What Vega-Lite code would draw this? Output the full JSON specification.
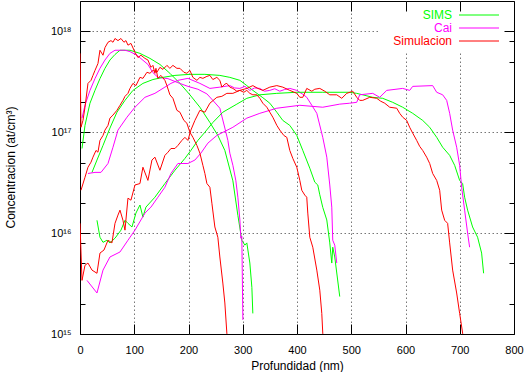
{
"$schema":"https://vega.github.io/schema/vega-lite/v6.json",
"width":434,"height":333,
"autosize":{"type":"none"},
"padding":{"left":80,"top":1,"right":10,"bottom":38},
"background":"white",
"config":{"view":{"stroke":"black","strokeWidth":1},"font":"Liberation Sans"},
"data":{"values":[
{"s":"SIMS","c":"G1","x":3.7,"y":6.9e16},{"s":"SIMS","c":"G1","x":9.2,"y":1.17e17},{"s":"SIMS","c":"G1","x":18.4,"y":1.94e17},{"s":"SIMS","c":"G1","x":27.6,"y":2.6e17},{"s":"SIMS","c":"G1","x":36.8,"y":3.4e17},{"s":"SIMS","c":"G1","x":46,"y":4.3e17},{"s":"SIMS","c":"G1","x":55.2,"y":5.2e17},{"s":"SIMS","c":"G1","x":64.5,"y":5.9e17},{"s":"SIMS","c":"G1","x":73.7,"y":6.5e17},{"s":"SIMS","c":"G1","x":92.1,"y":6.5e17},{"s":"SIMS","c":"G1","x":110.5,"y":6.05e17},{"s":"SIMS","c":"G1","x":128.9,"y":5.4e17},{"s":"SIMS","c":"G1","x":147.3,"y":4.7e17},{"s":"SIMS","c":"G1","x":165.7,"y":3.84e17},{"s":"SIMS","c":"G1","x":184.2,"y":3.05e17},{"s":"SIMS","c":"G1","x":202.6,"y":2.35e17},{"s":"SIMS","c":"G1","x":221,"y":1.77e17},{"s":"SIMS","c":"G1","x":239.4,"y":1.25e17},{"s":"SIMS","c":"G1","x":254.1,"y":9.3e16},{"s":"SIMS","c":"G1","x":267,"y":6.6e16},{"s":"SIMS","c":"G1","x":281.8,"y":3.3e16},{"s":"SIMS","c":"G1","x":291,"y":1.5e16},{"s":"SIMS","c":"G1","x":298.3,"y":8.5e15},{"s":"SIMS","c":"G1","x":303.9,"y":7.6e15},{"s":"SIMS","c":"G1","x":307.5,"y":8.0e15},{"s":"SIMS","c":"G1","x":313.1,"y":5.05e15},{"s":"SIMS","c":"G1","x":316.8,"y":2.9e15},{"s":"SIMS","c":"G1","x":318.6,"y":1.6e15},
{"s":"Cai","c":"M1","x":3.7,"y":1.38e17},{"s":"Cai","c":"M1","x":9.2,"y":1.85e17},{"s":"Cai","c":"M1","x":18.4,"y":2.6e17},{"s":"Cai","c":"M1","x":27.6,"y":3.4e17},{"s":"Cai","c":"M1","x":36.8,"y":4.3e17},{"s":"Cai","c":"M1","x":46,"y":5.2e17},{"s":"Cai","c":"M1","x":55.2,"y":6.05e17},{"s":"Cai","c":"M1","x":64.5,"y":6.5e17},{"s":"Cai","c":"M1","x":82.9,"y":6.5e17},{"s":"Cai","c":"M1","x":92.1,"y":6.3e17},{"s":"Cai","c":"M1","x":105,"y":5.8e17},{"s":"Cai","c":"M1","x":125.2,"y":4.7e17},{"s":"Cai","c":"M1","x":134.4,"y":3.9e17},{"s":"Cai","c":"M1","x":143.6,"y":3.5e17},{"s":"Cai","c":"M1","x":162.1,"y":3.4e17},{"s":"Cai","c":"M1","x":180.5,"y":3.1e17},{"s":"Cai","c":"M1","x":198.9,"y":2.85e17},{"s":"Cai","c":"M1","x":217.3,"y":2.67e17},{"s":"Cai","c":"M1","x":233.9,"y":2.4e17},{"s":"Cai","c":"M1","x":244.9,"y":2.07e17},{"s":"Cai","c":"M1","x":257.8,"y":1.73e17},{"s":"Cai","c":"M1","x":267,"y":1.1e17},{"s":"Cai","c":"M1","x":272.6,"y":8.3e16},{"s":"Cai","c":"M1","x":276.2,"y":6.2e16},{"s":"Cai","c":"M1","x":281.8,"y":4.7e16},{"s":"Cai","c":"M1","x":287.3,"y":3.3e16},{"s":"Cai","c":"M1","x":291,"y":2.27e16},{"s":"Cai","c":"M1","x":294.7,"y":1.35e16},{"s":"Cai","c":"M1","x":296.5,"y":8.9e15},{"s":"Cai","c":"M1","x":298.3,"y":9.3e15},{"s":"Cai","c":"M1","x":300.2,"y":1.38e15},
{"s":"SIMS","c":"G2","x":22.1,"y":4.0e16},{"s":"SIMS","c":"G2","x":31.3,"y":5.3e16},{"s":"SIMS","c":"G2","x":42.4,"y":7.4e16},{"s":"SIMS","c":"G2","x":55.2,"y":1.1e17},{"s":"SIMS","c":"G2","x":68.1,"y":1.58e17},{"s":"SIMS","c":"G2","x":82.9,"y":2.07e17},{"s":"SIMS","c":"G2","x":97.6,"y":2.6e17},{"s":"SIMS","c":"G2","x":116,"y":3.05e17},{"s":"SIMS","c":"G2","x":134.4,"y":3.33e17},{"s":"SIMS","c":"G2","x":152.9,"y":3.5e17},{"s":"SIMS","c":"G2","x":175,"y":3.66e17},{"s":"SIMS","c":"G2","x":202.6,"y":3.75e17},{"s":"SIMS","c":"G2","x":230.2,"y":3.75e17},{"s":"SIMS","c":"G2","x":257.8,"y":3.66e17},{"s":"SIMS","c":"G2","x":276.2,"y":3.5e17},{"s":"SIMS","c":"G2","x":294.7,"y":3.27e17},{"s":"SIMS","c":"G2","x":307.5,"y":2.9e17},{"s":"SIMS","c":"G2","x":318.6,"y":2.6e17},{"s":"SIMS","c":"G2","x":337,"y":2.2e17},{"s":"SIMS","c":"G2","x":349.9,"y":1.94e17},{"s":"SIMS","c":"G2","x":362.8,"y":1.58e17},{"s":"SIMS","c":"G2","x":373.8,"y":1.31e17},{"s":"SIMS","c":"G2","x":386.7,"y":1.17e17},{"s":"SIMS","c":"G2","x":399.6,"y":9.3e16},{"s":"SIMS","c":"G2","x":410.7,"y":6.6e16},{"s":"SIMS","c":"G2","x":423.6,"y":4.4e16},{"s":"SIMS","c":"G2","x":432.8,"y":3.2e16},{"s":"SIMS","c":"G2","x":438.3,"y":3.0e16},{"s":"SIMS","c":"G2","x":442,"y":2.4e16},{"s":"SIMS","c":"G2","x":447.5,"y":1.8e16},{"s":"SIMS","c":"G2","x":454.9,"y":1.35e16},{"s":"SIMS","c":"G2","x":460.4,"y":8.0e15},{"s":"SIMS","c":"G2","x":464.1,"y":5.05e15},{"s":"SIMS","c":"G2","x":465.9,"y":7.25e15},{"s":"SIMS","c":"G2","x":469.6,"y":5.8e15},{"s":"SIMS","c":"G2","x":478.8,"y":2.35e15},
{"s":"Cai","c":"M2","x":14.7,"y":3.9e16},{"s":"Cai","c":"M2","x":27.6,"y":4.0e16},{"s":"Cai","c":"M2","x":38.7,"y":4.0e16},{"s":"Cai","c":"M2","x":51.6,"y":4.9e16},{"s":"Cai","c":"M2","x":60.8,"y":7.1e16},{"s":"Cai","c":"M2","x":70,"y":1.05e17},{"s":"Cai","c":"M2","x":86.6,"y":1.41e17},{"s":"Cai","c":"M2","x":101.3,"y":1.77e17},{"s":"Cai","c":"M2","x":119.7,"y":2.22e17},{"s":"Cai","c":"M2","x":138.1,"y":2.43e17},{"s":"Cai","c":"M2","x":156.5,"y":2.8e17},{"s":"Cai","c":"M2","x":167.6,"y":3.05e17},{"s":"Cai","c":"M2","x":180.5,"y":3.27e17},{"s":"Cai","c":"M2","x":198.9,"y":3.42e17},{"s":"Cai","c":"M2","x":221,"y":3.05e17},{"s":"Cai","c":"M2","x":239.4,"y":2.72e17},{"s":"Cai","c":"M2","x":257.8,"y":2.8e17},{"s":"Cai","c":"M2","x":276.2,"y":2.9e17},{"s":"Cai","c":"M2","x":285,"y":2.75e17},{"s":"Cai","c":"M2","x":294.7,"y":2.72e17},{"s":"Cai","c":"M2","x":304,"y":2.85e17},{"s":"Cai","c":"M2","x":313.1,"y":2.6e17},{"s":"Cai","c":"M2","x":322,"y":2.75e17},{"s":"Cai","c":"M2","x":331.5,"y":2.72e17},{"s":"Cai","c":"M2","x":340,"y":2.55e17},{"s":"Cai","c":"M2","x":349.9,"y":2.6e17},{"s":"Cai","c":"M2","x":359,"y":2.7e17},{"s":"Cai","c":"M2","x":368.3,"y":2.55e17},{"s":"Cai","c":"M2","x":377,"y":2.65e17},{"s":"Cai","c":"M2","x":386.7,"y":2.72e17},{"s":"Cai","c":"M2","x":399.6,"y":2.6e17},{"s":"Cai","c":"M2","x":410.7,"y":2.38e17},{"s":"Cai","c":"M2","x":418,"y":2.22e17},{"s":"Cai","c":"M2","x":427.3,"y":1.85e17},{"s":"Cai","c":"M2","x":436.5,"y":1.54e17},{"s":"Cai","c":"M2","x":447.5,"y":8.9e16},{"s":"Cai","c":"M2","x":454.9,"y":5.66e16},{"s":"Cai","c":"M2","x":460.4,"y":3.0e16},{"s":"Cai","c":"M2","x":464.1,"y":1.81e16},{"s":"Cai","c":"M2","x":465.9,"y":8.5e15},{"s":"Cai","c":"M2","x":469.6,"y":7.6e15},{"s":"Cai","c":"M2","x":473.3,"y":5.05e15},
{"s":"SIMS","c":"G3","x":31.3,"y":1.34e16},{"s":"SIMS","c":"G3","x":36.8,"y":9.1e15},{"s":"SIMS","c":"G3","x":42.4,"y":8.1e15},{"s":"SIMS","c":"G3","x":49.7,"y":8.5e15},{"s":"SIMS","c":"G3","x":55.2,"y":8.0e15},{"s":"SIMS","c":"G3","x":64.5,"y":8.9e15},{"s":"SIMS","c":"G3","x":75.5,"y":1.07e16},{"s":"SIMS","c":"G3","x":82.9,"y":1.34e16},{"s":"SIMS","c":"G3","x":88.4,"y":1.25e16},{"s":"SIMS","c":"G3","x":95.8,"y":1.15e16},{"s":"SIMS","c":"G3","x":103.1,"y":1.58e16},{"s":"SIMS","c":"G3","x":110.5,"y":1.9e16},{"s":"SIMS","c":"G3","x":116,"y":1.44e16},{"s":"SIMS","c":"G3","x":121.5,"y":1.81e16},{"s":"SIMS","c":"G3","x":138.1,"y":2.27e16},{"s":"SIMS","c":"G3","x":156.5,"y":3.1e16},{"s":"SIMS","c":"G3","x":175,"y":4.2e16},{"s":"SIMS","c":"G3","x":193.4,"y":5.5e16},{"s":"SIMS","c":"G3","x":204.4,"y":6.6e16},{"s":"SIMS","c":"G3","x":217.3,"y":8.3e16},{"s":"SIMS","c":"G3","x":230.2,"y":1.0e17},{"s":"SIMS","c":"G3","x":244.9,"y":1.25e17},{"s":"SIMS","c":"G3","x":263.3,"y":1.58e17},{"s":"SIMS","c":"G3","x":289.1,"y":1.9e17},{"s":"SIMS","c":"G3","x":307.5,"y":2.17e17},{"s":"SIMS","c":"G3","x":331.5,"y":2.35e17},{"s":"SIMS","c":"G3","x":362.8,"y":2.43e17},{"s":"SIMS","c":"G3","x":399.6,"y":2.49e17},{"s":"SIMS","c":"G3","x":447.5,"y":2.49e17},{"s":"SIMS","c":"G3","x":497.2,"y":2.49e17},{"s":"SIMS","c":"G3","x":510.1,"y":2.43e17},{"s":"SIMS","c":"G3","x":539.6,"y":2.22e17},{"s":"SIMS","c":"G3","x":558,"y":2.17e17},{"s":"SIMS","c":"G3","x":576.4,"y":1.98e17},{"s":"SIMS","c":"G3","x":594.8,"y":1.77e17},{"s":"SIMS","c":"G3","x":613.3,"y":1.54e17},{"s":"SIMS","c":"G3","x":631.7,"y":1.31e17},{"s":"SIMS","c":"G3","x":644.6,"y":1.12e17},{"s":"SIMS","c":"G3","x":657.5,"y":8.9e16},{"s":"SIMS","c":"G3","x":668.5,"y":7.1e16},{"s":"SIMS","c":"G3","x":681.4,"y":5.9e16},{"s":"SIMS","c":"G3","x":690.6,"y":4.7e16},{"s":"SIMS","c":"G3","x":699.8,"y":3.33e16},{"s":"SIMS","c":"G3","x":705.3,"y":3.1e16},{"s":"SIMS","c":"G3","x":709,"y":2.27e16},{"s":"SIMS","c":"G3","x":714.5,"y":1.69e16},{"s":"SIMS","c":"G3","x":723.7,"y":1.15e16},{"s":"SIMS","c":"G3","x":732.9,"y":9.1e15},{"s":"SIMS","c":"G3","x":740.3,"y":6.34e15},{"s":"SIMS","c":"G3","x":744,"y":4.0e15},
{"s":"Cai","c":"M3","x":12.9,"y":3.4e15},{"s":"Cai","c":"M3","x":31.3,"y":2.55e15},{"s":"Cai","c":"M3","x":42.4,"y":4.3e15},{"s":"Cai","c":"M3","x":55.2,"y":5.8e15},{"s":"Cai","c":"M3","x":73.7,"y":6.5e15},{"s":"Cai","c":"M3","x":88.4,"y":8.5e15},{"s":"Cai","c":"M3","x":101.3,"y":1.07e16},{"s":"Cai","c":"M3","x":119.7,"y":1.58e16},{"s":"Cai","c":"M3","x":130.8,"y":1.81e16},{"s":"Cai","c":"M3","x":143.6,"y":2.27e16},{"s":"Cai","c":"M3","x":156.5,"y":2.85e16},{"s":"Cai","c":"M3","x":167.6,"y":3.9e16},{"s":"Cai","c":"M3","x":180.5,"y":4.9e16},{"s":"Cai","c":"M3","x":198.9,"y":4.9e16},{"s":"Cai","c":"M3","x":211.8,"y":5.3e16},{"s":"Cai","c":"M3","x":222.8,"y":6.2e16},{"s":"Cai","c":"M3","x":235.7,"y":7.8e16},{"s":"Cai","c":"M3","x":252.3,"y":9.3e16},{"s":"Cai","c":"M3","x":281.8,"y":1.12e17},{"s":"Cai","c":"M3","x":307.5,"y":1.38e17},{"s":"Cai","c":"M3","x":331.5,"y":1.54e17},{"s":"Cai","c":"M3","x":362.8,"y":1.73e17},{"s":"Cai","c":"M3","x":405.2,"y":1.85e17},{"s":"Cai","c":"M3","x":447.5,"y":1.77e17},{"s":"Cai","c":"M3","x":478.8,"y":1.9e17},{"s":"Cai","c":"M3","x":497.2,"y":1.94e17},{"s":"Cai","c":"M3","x":510.1,"y":1.98e17},{"s":"Cai","c":"M3","x":515.6,"y":2.35e17},{"s":"Cai","c":"M3","x":539.6,"y":2.43e17},{"s":"Cai","c":"M3","x":552.5,"y":2.22e17},{"s":"Cai","c":"M3","x":565.4,"y":2.6e17},{"s":"Cai","c":"M3","x":594.8,"y":2.72e17},{"s":"Cai","c":"M3","x":607.7,"y":2.6e17},{"s":"Cai","c":"M3","x":613.3,"y":2.85e17},{"s":"Cai","c":"M3","x":650.1,"y":2.9e17},{"s":"Cai","c":"M3","x":657.5,"y":2.49e17},{"s":"Cai","c":"M3","x":668.5,"y":2.35e17},{"s":"Cai","c":"M3","x":675.9,"y":2.07e17},{"s":"Cai","c":"M3","x":681.4,"y":1.54e17},{"s":"Cai","c":"M3","x":686.9,"y":1.05e17},{"s":"Cai","c":"M3","x":694.3,"y":7.1e16},{"s":"Cai","c":"M3","x":699.8,"y":4.7e16},{"s":"Cai","c":"M3","x":703.5,"y":2.85e16},{"s":"Cai","c":"M3","x":709,"y":1.69e16},{"s":"Cai","c":"M3","x":714.5,"y":1.0e16},{"s":"Cai","c":"M3","x":718.2,"y":7.25e15},
{"s":"Simulacion","c":"R1","x":0,"y":6.05e17},{"s":"Simulacion","c":"R1","x":1.8,"y":1.12e17},{"s":"Simulacion","c":"R1","x":5.5,"y":1.31e17},{"s":"Simulacion","c":"R1","x":9.2,"y":1.77e17},{"s":"Simulacion","c":"R1","x":14.7,"y":3.05e17},{"s":"Simulacion","c":"R1","x":20.3,"y":3.27e17},{"s":"Simulacion","c":"R1","x":23.9,"y":3.66e17},{"s":"Simulacion","c":"R1","x":27.6,"y":4.1e17},{"s":"Simulacion","c":"R1","x":33.1,"y":4.8e17},{"s":"Simulacion","c":"R1","x":36.8,"y":6.5e17},{"s":"Simulacion","c":"R1","x":42.4,"y":5.8e17},{"s":"Simulacion","c":"R1","x":46,"y":6.9e17},{"s":"Simulacion","c":"R1","x":51.6,"y":7.8e17},{"s":"Simulacion","c":"R1","x":57.1,"y":8.1e17},{"s":"Simulacion","c":"R1","x":60.8,"y":7.8e17},{"s":"Simulacion","c":"R1","x":64.5,"y":8.5e17},{"s":"Simulacion","c":"R1","x":70,"y":8.1e17},{"s":"Simulacion","c":"R1","x":75.5,"y":8.5e17},{"s":"Simulacion","c":"R1","x":81,"y":7.8e17},{"s":"Simulacion","c":"R1","x":84.7,"y":8.1e17},{"s":"Simulacion","c":"R1","x":88.4,"y":7.3e17},{"s":"Simulacion","c":"R1","x":93.9,"y":7.6e17},{"s":"Simulacion","c":"R1","x":101.3,"y":6.2e17},{"s":"Simulacion","c":"R1","x":106.8,"y":5.5e17},{"s":"Simulacion","c":"R1","x":112.3,"y":5.8e17},{"s":"Simulacion","c":"R1","x":119.7,"y":5.4e17},{"s":"Simulacion","c":"R1","x":125.2,"y":5.2e17},{"s":"Simulacion","c":"R1","x":130.8,"y":4.4e17},{"s":"Simulacion","c":"R1","x":134.4,"y":4.6e17},{"s":"Simulacion","c":"R1","x":138.1,"y":3.84e17},{"s":"Simulacion","c":"R1","x":140,"y":4.3e17},{"s":"Simulacion","c":"R1","x":143.6,"y":3.42e17},{"s":"Simulacion","c":"R1","x":149.2,"y":3.66e17},{"s":"Simulacion","c":"R1","x":156.5,"y":3.27e17},{"s":"Simulacion","c":"R1","x":160.2,"y":2.9e17},{"s":"Simulacion","c":"R1","x":165.7,"y":2.35e17},{"s":"Simulacion","c":"R1","x":171.3,"y":2.17e17},{"s":"Simulacion","c":"R1","x":178.6,"y":1.65e17},{"s":"Simulacion","c":"R1","x":184.2,"y":1.58e17},{"s":"Simulacion","c":"R1","x":191.5,"y":1.31e17},{"s":"Simulacion","c":"R1","x":197,"y":1.23e17},{"s":"Simulacion","c":"R1","x":202.6,"y":1.0e17},{"s":"Simulacion","c":"R1","x":208.1,"y":8.9e16},{"s":"Simulacion","c":"R1","x":215.5,"y":7.4e16},{"s":"Simulacion","c":"R1","x":221,"y":6.2e16},{"s":"Simulacion","c":"R1","x":226.5,"y":4.7e16},{"s":"Simulacion","c":"R1","x":230.2,"y":3.9e16},{"s":"Simulacion","c":"R1","x":233.9,"y":3.1e16},{"s":"Simulacion","c":"R1","x":239.4,"y":2.85e16},{"s":"Simulacion","c":"R1","x":243.1,"y":1.98e16},{"s":"Simulacion","c":"R1","x":248.6,"y":1.15e16},{"s":"Simulacion","c":"R1","x":254.1,"y":9.1e15},{"s":"Simulacion","c":"R1","x":257.8,"y":5.8e15},{"s":"Simulacion","c":"R1","x":263.3,"y":3.2e15},{"s":"Simulacion","c":"R1","x":267,"y":2.03e15},{"s":"Simulacion","c":"R1","x":270.7,"y":1.02e15},{"s":"Simulacion","c":"R1","x":272.6,"y":7.7e14},
{"s":"Simulacion","c":"R2","x":1.8,"y":2.66e16},{"s":"Simulacion","c":"R2","x":9.2,"y":3.58e16},{"s":"Simulacion","c":"R2","x":14.7,"y":4.5e16},{"s":"Simulacion","c":"R2","x":20.3,"y":5.05e16},{"s":"Simulacion","c":"R2","x":23.9,"y":5.66e16},{"s":"Simulacion","c":"R2","x":29.5,"y":6.6e16},{"s":"Simulacion","c":"R2","x":33.1,"y":6.34e16},{"s":"Simulacion","c":"R2","x":36.8,"y":8.3e16},{"s":"Simulacion","c":"R2","x":42.4,"y":9.3e16},{"s":"Simulacion","c":"R2","x":46,"y":1.05e17},{"s":"Simulacion","c":"R2","x":51.6,"y":1.17e17},{"s":"Simulacion","c":"R2","x":55.2,"y":1.38e17},{"s":"Simulacion","c":"R2","x":60.8,"y":1.48e17},{"s":"Simulacion","c":"R2","x":68.1,"y":1.65e17},{"s":"Simulacion","c":"R2","x":73.7,"y":1.85e17},{"s":"Simulacion","c":"R2","x":79.2,"y":2.07e17},{"s":"Simulacion","c":"R2","x":82.9,"y":2.27e17},{"s":"Simulacion","c":"R2","x":88.4,"y":2.43e17},{"s":"Simulacion","c":"R2","x":92.1,"y":2.72e17},{"s":"Simulacion","c":"R2","x":97.6,"y":3.05e17},{"s":"Simulacion","c":"R2","x":103.1,"y":2.9e17},{"s":"Simulacion","c":"R2","x":110.5,"y":3.5e17},{"s":"Simulacion","c":"R2","x":116,"y":3.42e17},{"s":"Simulacion","c":"R2","x":123.4,"y":3.93e17},{"s":"Simulacion","c":"R2","x":128.9,"y":3.84e17},{"s":"Simulacion","c":"R2","x":134.4,"y":4.1e17},{"s":"Simulacion","c":"R2","x":141.8,"y":3.93e17},{"s":"Simulacion","c":"R2","x":147.3,"y":4.4e17},{"s":"Simulacion","c":"R2","x":152.9,"y":4.2e17},{"s":"Simulacion","c":"R2","x":160.2,"y":4.6e17},{"s":"Simulacion","c":"R2","x":165.7,"y":4.3e17},{"s":"Simulacion","c":"R2","x":171.3,"y":4.6e17},{"s":"Simulacion","c":"R2","x":178.6,"y":4.3e17},{"s":"Simulacion","c":"R2","x":184.2,"y":4.3e17},{"s":"Simulacion","c":"R2","x":191.5,"y":3.93e17},{"s":"Simulacion","c":"R2","x":197,"y":3.84e17},{"s":"Simulacion","c":"R2","x":202.6,"y":4.1e17},{"s":"Simulacion","c":"R2","x":208.1,"y":3.5e17},{"s":"Simulacion","c":"R2","x":215.5,"y":3.27e17},{"s":"Simulacion","c":"R2","x":221,"y":3.5e17},{"s":"Simulacion","c":"R2","x":226.5,"y":3.42e17},{"s":"Simulacion","c":"R2","x":233.9,"y":3.58e17},{"s":"Simulacion","c":"R2","x":239.4,"y":3.66e17},{"s":"Simulacion","c":"R2","x":244.9,"y":3.33e17},{"s":"Simulacion","c":"R2","x":252.3,"y":3.5e17},{"s":"Simulacion","c":"R2","x":257.8,"y":3.27e17},{"s":"Simulacion","c":"R2","x":261.5,"y":2.8e17},{"s":"Simulacion","c":"R2","x":267,"y":3.0e17},{"s":"Simulacion","c":"R2","x":270.7,"y":3.05e17},{"s":"Simulacion","c":"R2","x":276.2,"y":2.8e17},{"s":"Simulacion","c":"R2","x":281.8,"y":2.72e17},{"s":"Simulacion","c":"R2","x":289.1,"y":2.55e17},{"s":"Simulacion","c":"R2","x":294.7,"y":2.6e17},{"s":"Simulacion","c":"R2","x":302,"y":2.49e17},{"s":"Simulacion","c":"R2","x":307.5,"y":2.6e17},{"s":"Simulacion","c":"R2","x":313.1,"y":2.43e17},{"s":"Simulacion","c":"R2","x":318.6,"y":2.35e17},{"s":"Simulacion","c":"R2","x":326,"y":2.35e17},{"s":"Simulacion","c":"R2","x":331.5,"y":2.17e17},{"s":"Simulacion","c":"R2","x":337,"y":1.94e17},{"s":"Simulacion","c":"R2","x":344.4,"y":1.77e17},{"s":"Simulacion","c":"R2","x":349.9,"y":1.58e17},{"s":"Simulacion","c":"R2","x":355.4,"y":1.41e17},{"s":"Simulacion","c":"R2","x":362.8,"y":1.17e17},{"s":"Simulacion","c":"R2","x":368.3,"y":1.05e17},{"s":"Simulacion","c":"R2","x":375.7,"y":9.3e16},{"s":"Simulacion","c":"R2","x":381.2,"y":8.9e16},{"s":"Simulacion","c":"R2","x":386.7,"y":6.6e16},{"s":"Simulacion","c":"R2","x":392.3,"y":5.5e16},{"s":"Simulacion","c":"R2","x":399.6,"y":4.5e16},{"s":"Simulacion","c":"R2","x":405.2,"y":3.33e16},{"s":"Simulacion","c":"R2","x":408.8,"y":2.66e16},{"s":"Simulacion","c":"R2","x":414.4,"y":2.38e16},{"s":"Simulacion","c":"R2","x":418,"y":2.27e16},{"s":"Simulacion","c":"R2","x":419.9,"y":1.58e16},{"s":"Simulacion","c":"R2","x":423.6,"y":9.1e15},{"s":"Simulacion","c":"R2","x":429.1,"y":7.25e15},{"s":"Simulacion","c":"R2","x":436.5,"y":4.3e15},{"s":"Simulacion","c":"R2","x":442,"y":2.72e15},{"s":"Simulacion","c":"R2","x":445.7,"y":1.6e15},{"s":"Simulacion","c":"R2","x":447.5,"y":1.02e15},{"s":"Simulacion","c":"R2","x":449.3,"y":7.7e14},
{"s":"Simulacion","c":"R3","x":0,"y":1.25e16},{"s":"Simulacion","c":"R3","x":3.7,"y":3.4e15},{"s":"Simulacion","c":"R3","x":9.2,"y":4.8e15},{"s":"Simulacion","c":"R3","x":14.7,"y":5.05e15},{"s":"Simulacion","c":"R3","x":22.1,"y":4.3e15},{"s":"Simulacion","c":"R3","x":31.3,"y":4.0e15},{"s":"Simulacion","c":"R3","x":36.8,"y":6.34e15},{"s":"Simulacion","c":"R3","x":44.2,"y":6.8e15},{"s":"Simulacion","c":"R3","x":51.6,"y":8.5e15},{"s":"Simulacion","c":"R3","x":58.9,"y":8.0e15},{"s":"Simulacion","c":"R3","x":64.5,"y":1.25e16},{"s":"Simulacion","c":"R3","x":70,"y":1.51e16},{"s":"Simulacion","c":"R3","x":73.7,"y":1.69e16},{"s":"Simulacion","c":"R3","x":79.2,"y":1.34e16},{"s":"Simulacion","c":"R3","x":82.9,"y":1.07e16},{"s":"Simulacion","c":"R3","x":88.4,"y":2.22e16},{"s":"Simulacion","c":"R3","x":93.9,"y":2.12e16},{"s":"Simulacion","c":"R3","x":101.3,"y":3.0e16},{"s":"Simulacion","c":"R3","x":110.5,"y":3.1e16},{"s":"Simulacion","c":"R3","x":116,"y":4.5e16},{"s":"Simulacion","c":"R3","x":125.2,"y":3.33e16},{"s":"Simulacion","c":"R3","x":132.6,"y":5.3e16},{"s":"Simulacion","c":"R3","x":138.1,"y":5.66e16},{"s":"Simulacion","c":"R3","x":147.3,"y":4.2e16},{"s":"Simulacion","c":"R3","x":156.5,"y":5.9e16},{"s":"Simulacion","c":"R3","x":162.1,"y":6.34e16},{"s":"Simulacion","c":"R3","x":167.6,"y":6.9e16},{"s":"Simulacion","c":"R3","x":175,"y":6.9e16},{"s":"Simulacion","c":"R3","x":180.5,"y":7.4e16},{"s":"Simulacion","c":"R3","x":187.8,"y":8.3e16},{"s":"Simulacion","c":"R3","x":193.4,"y":8.9e16},{"s":"Simulacion","c":"R3","x":198.9,"y":8.3e16},{"s":"Simulacion","c":"R3","x":204.4,"y":1.05e17},{"s":"Simulacion","c":"R3","x":211.8,"y":1.31e17},{"s":"Simulacion","c":"R3","x":221,"y":1.65e17},{"s":"Simulacion","c":"R3","x":230.2,"y":1.58e17},{"s":"Simulacion","c":"R3","x":239.4,"y":1.94e17},{"s":"Simulacion","c":"R3","x":252.3,"y":2.22e17},{"s":"Simulacion","c":"R3","x":261.5,"y":2.27e17},{"s":"Simulacion","c":"R3","x":270.7,"y":2.43e17},{"s":"Simulacion","c":"R3","x":281.8,"y":2.43e17},{"s":"Simulacion","c":"R3","x":294.7,"y":2.6e17},{"s":"Simulacion","c":"R3","x":307.5,"y":2.72e17},{"s":"Simulacion","c":"R3","x":318.6,"y":2.9e17},{"s":"Simulacion","c":"R3","x":327.8,"y":2.72e17},{"s":"Simulacion","c":"R3","x":337,"y":2.6e17},{"s":"Simulacion","c":"R3","x":349.9,"y":2.8e17},{"s":"Simulacion","c":"R3","x":362.8,"y":2.9e17},{"s":"Simulacion","c":"R3","x":373.8,"y":2.8e17},{"s":"Simulacion","c":"R3","x":386.7,"y":2.6e17},{"s":"Simulacion","c":"R3","x":399.6,"y":2.43e17},{"s":"Simulacion","c":"R3","x":405.2,"y":2.22e17},{"s":"Simulacion","c":"R3","x":410.7,"y":2.22e17},{"s":"Simulacion","c":"R3","x":418,"y":2.72e17},{"s":"Simulacion","c":"R3","x":427.3,"y":2.55e17},{"s":"Simulacion","c":"R3","x":432.8,"y":2.67e17},{"s":"Simulacion","c":"R3","x":442,"y":2.72e17},{"s":"Simulacion","c":"R3","x":451.2,"y":2.55e17},{"s":"Simulacion","c":"R3","x":460.4,"y":2.35e17},{"s":"Simulacion","c":"R3","x":473.3,"y":2.35e17},{"s":"Simulacion","c":"R3","x":482.5,"y":2.17e17},{"s":"Simulacion","c":"R3","x":491.7,"y":2.43e17},{"s":"Simulacion","c":"R3","x":502.8,"y":2.55e17},{"s":"Simulacion","c":"R3","x":510.1,"y":2.22e17},{"s":"Simulacion","c":"R3","x":515.6,"y":2.07e17},{"s":"Simulacion","c":"R3","x":521.2,"y":2.07e17},{"s":"Simulacion","c":"R3","x":534.1,"y":2.22e17},{"s":"Simulacion","c":"R3","x":547,"y":2.17e17},{"s":"Simulacion","c":"R3","x":554.3,"y":2.03e17},{"s":"Simulacion","c":"R3","x":561.7,"y":1.94e17},{"s":"Simulacion","c":"R3","x":570.9,"y":1.77e17},{"s":"Simulacion","c":"R3","x":583.8,"y":1.73e17},{"s":"Simulacion","c":"R3","x":589.3,"y":1.54e17},{"s":"Simulacion","c":"R3","x":594.8,"y":1.41e17},{"s":"Simulacion","c":"R3","x":602.2,"y":1.31e17},{"s":"Simulacion","c":"R3","x":607.7,"y":1.12e17},{"s":"Simulacion","c":"R3","x":613.3,"y":9.8e16},{"s":"Simulacion","c":"R3","x":620.6,"y":8.3e16},{"s":"Simulacion","c":"R3","x":626.1,"y":7.25e16},{"s":"Simulacion","c":"R3","x":631.7,"y":6.6e16},{"s":"Simulacion","c":"R3","x":639,"y":5.66e16},{"s":"Simulacion","c":"R3","x":644.6,"y":4.9e16},{"s":"Simulacion","c":"R3","x":650.1,"y":3.9e16},{"s":"Simulacion","c":"R3","x":657.5,"y":3.33e16},{"s":"Simulacion","c":"R3","x":663,"y":2.66e16},{"s":"Simulacion","c":"R3","x":666.7,"y":1.69e16},{"s":"Simulacion","c":"R3","x":672.2,"y":1.34e16},{"s":"Simulacion","c":"R3","x":677.7,"y":1.25e16},{"s":"Simulacion","c":"R3","x":681.4,"y":8.0e15},{"s":"Simulacion","c":"R3","x":686.9,"y":4.3e15},{"s":"Simulacion","c":"R3","x":694.3,"y":2.55e15},{"s":"Simulacion","c":"R3","x":699.8,"y":1.6e15},{"s":"Simulacion","c":"R3","x":705.3,"y":1.02e15},{"s":"Simulacion","c":"R3","x":707,"y":7.7e14}
]},
"layer":[
{"mark":{"type":"line","strokeWidth":1,"clip":true},
 "encoding":{
  "x":{"field":"x","type":"quantitative","scale":{"domain":[0,800],"nice":false,"zero":false},
   "axis":{"orient":"bottom","values":[0,100,200,300,400,500,600,700,800],"grid":true,"gridColor":"#777777","gridDash":[1.5,2.5],"gridWidth":1,
    "gridOpacity":{"condition":{"test":"datum.value==0||datum.value==800","value":0},"value":1},
    "tickSize":-10,"tickColor":"black","tickWidth":1,"domain":false,
    "labelFont":"Liberation Sans","labelFontSize":11,"labelColor":"black","labelPadding":26,"labelBaseline":"middle","labelFlush":false,"labelOverlap":false,
    "title":"Profundidad (nm)","titleFont":"Liberation Sans","titleFontSize":12,"titleFontWeight":"normal","titleColor":"black","titleY":31,"titleBaseline":"middle"}},
  "y":{"field":"y","type":"quantitative","scale":{"type":"log","domain":[1e15,2e18],"nice":false},
   "axis":{"orient":"left","values":[1e15,2e15,5e15,8e15,1e16,2e16,5e16,8e16,1e17,2e17,5e17,8e17,1e18],"grid":true,"gridColor":"#777777","gridDash":[1.5,2.5],"gridWidth":1,
    "gridOpacity":{"condition":{"test":"datum.value==1e16||datum.value==1e17||datum.value==1e18","value":1},"value":0},
    "tickSize":{"condition":{"test":"datum.value==1e15||datum.value==1e16||datum.value==1e17||datum.value==1e18","value":-10},"value":-5},
    "tickColor":"black","tickWidth":1,"domain":false,
    "labelExpr":"datum.value==1e15?'10¹⁵':datum.value==1e16?'10¹⁶':datum.value==1e17?'10¹⁷':datum.value==1e18?'10¹⁸':''",
    "labelFont":"Liberation Sans","labelFontSize":11,"labelColor":"black","labelPadding":19,"labelOverlap":false,"labelFlush":false,
    "title":"Concentracion (at/cm³)","titleFont":"Liberation Sans","titleFontSize":12,"titleFontWeight":"normal","titleColor":"black",
    "titleX":-70,"titleY":166,"titleAngle":-90,"titleAlign":"center","titleBaseline":"middle"}},
  "color":{"field":"s","type":"nominal","scale":{"domain":["SIMS","Cai","Simulacion"],"range":["#00ff00","#ff00ff","#ff0000"]},
   "legend":{"orient":"none","legendX":300,"legendY":4,"title":null,"fillColor":"white","padding":4,"zindex":1,
    "symbolType":"stroke","symbolSize":1600,"symbolStrokeWidth":1,"labelFont":"Liberation Sans","labelFontSize":12,"rowPadding":1,
    "encode":{"labels":{"update":{"fill":{"scale":"color","field":"value"},"align":{"value":"right"},"x":{"value":68},"y":{"value":6},"baseline":{"value":"middle"}}},
              "symbols":{"update":{"x":{"value":95},"y":{"value":6}}}}}},
  "detail":{"field":"c","type":"nominal"}
 }},
{"mark":{"type":"point","opacity":0},
 "encoding":{
  "x":{"field":"x","type":"quantitative","axis":{"orient":"top","values":[0,100,200,300,400,500,600,700,800],"grid":false,"labels":false,"tickSize":-10,"tickColor":"black","domain":false,"title":null,"zindex":2}},
  "y":{"field":"y","type":"quantitative","scale":{"type":"log"},"axis":{"orient":"right","values":[1e15,2e15,5e15,8e15,1e16,2e16,5e16,8e16,1e17,2e17,5e17,8e17,1e18],"grid":false,"labels":false,
    "tickSize":{"condition":{"test":"datum.value==1e15||datum.value==1e16||datum.value==1e17||datum.value==1e18","value":-10},"value":-5},
    "tickColor":"black","domain":false,"title":null,"zindex":2}}
 }}
],
"resolve":{"axis":{"x":"independent","y":"independent"}}
}
